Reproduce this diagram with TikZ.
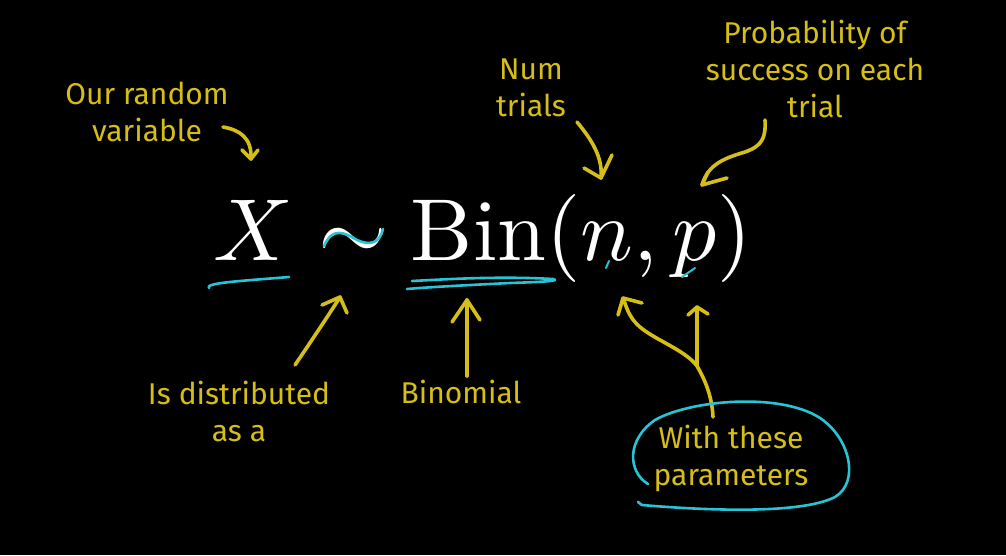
\documentclass[tikz,border=0pt]{standalone}
\usepackage{fontspec}
\newfontfamily\hand{Fira Sans}
\definecolor{hy}{RGB}{214,190,24}
\definecolor{cy}{RGB}{40,196,214}
\tikzset{
  note/.style={text=hy, font=\hand\fontsize{30}{37}\selectfont, align=center, inner sep=0pt},
  pen/.style={draw=hy, line width=3.6pt, line cap=round, line join=round},
  cyanline/.style={draw=cy, line width=2.6pt, line cap=round, line join=round},
}
\begin{document}
\begin{tikzpicture}[x=1pt,y=-1pt]
\fill[black] (0,0) rectangle (1006,555);
\useasboundingbox (0,0) rectangle (1006,555);

% formula
\node[text=white, anchor=base west, inner sep=0pt, scale=8.8] (eq) at (212,260)
  {$X\sim\mathrm{Bin}(n,p)$};

% labels
\node[note] (var) at (147,112) {Our random\\variable};
\node[note] (num) at (531,88) {Num\\trials};
\node[note] (prob) at (815,69) {Probability of\\success on each\\trial};
\node[note] (dist) at (239,411) {Is distributed\\as a};
\node[note] (binom) at (461,392) {Binomial};
\node[note] (param) at (731,458) {With these\\parameters};

% arrow coordinates
\coordinate (a1s) at (223,127); \coordinate (a1t) at (251,159);
\coordinate (a2s) at (577,122); \coordinate (a2t) at (601,178);
\coordinate (a3s) at (765,120); \coordinate (a3t) at (702,185);
\coordinate (a4s) at (295,365); \coordinate (a4t) at (340,297);
\coordinate (a5s) at (467,376); \coordinate (a5t) at (467,300);
\coordinate (a6s) at (713,417); \coordinate (fork) at (697,366);
\coordinate (a6t) at (697,307); \coordinate (a7t) at (623,298);

% arrows (hand drawn)
\draw[pen] (a1s) .. controls (240,130) and (252,138) .. (a1t);
\draw[pen] (242,150) -- (a1t) -- (258,150);

\draw[pen] (a2s) .. controls (592,140) and (603,158) .. (a2t);
\draw[pen] (584,168) -- (a2t) -- (612,155);

\draw[pen] (a3s) .. controls (766,138) and (762,146) .. (745,152)
  .. controls (725,158) and (708,164) .. (a3t);
\draw[pen] (708,172) -- (a3t) -- (727,178);

\draw[pen] (a4s) .. controls (312,340) and (330,313) .. (a4t);
\draw[pen] (322,305) -- (a4t) -- (347,313);

\draw[pen] (a5s) -- (a5t);
\draw[pen] (452,322) -- (a5t) -- (480,320);

\draw[pen] (a6s) .. controls (712,395) and (704,378) .. (fork) -- (a6t);
\draw[pen] (688,315) -- (a6t) -- (708,314);
\draw[pen] (fork) .. controls (685,350) and (655,340) .. (640,327)
  .. controls (628,317) and (626,305) .. (a7t);
\draw[pen] (618,315) -- (a7t) -- (642,303);

% cyan marks
\draw[cyanline] (209,288) .. controls (204,283) and (240,281) .. (289,277);
\draw[cyanline] (324,246) .. controls (333,226) and (345,233) .. (357,240)
  .. controls (370,246) and (380,243) .. (383,229);
\draw[cyanline] (412,281) .. controls (450,279) and (500,276) .. (553,279)
  .. controls (562,281) and (540,282) .. (510,283)
  .. controls (470,285) and (430,287) .. (407,289);
\draw[cyanline, line width=2pt] (606,268) -- (609,261);
\draw[cyanline, line width=2pt] (682,277) -- (695,268);
\draw[cyanline] (648,484) .. controls (628,472) and (626,440) .. (655,420)
  .. controls (690,400) and (780,392) .. (820,418)
  .. controls (850,438) and (860,482) .. (835,497)
  .. controls (800,515) and (700,510) .. (642,505)
  -- (638,502);
\end{tikzpicture}
\end{document}
